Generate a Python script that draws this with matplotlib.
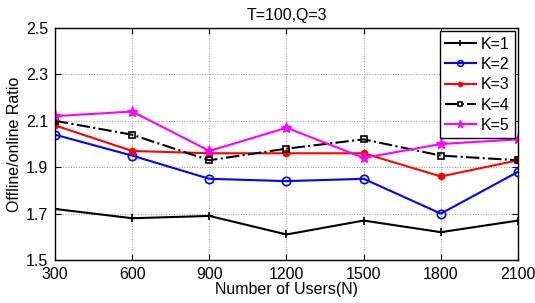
import matplotlib
matplotlib.use('Agg')
import matplotlib.pyplot as plt

plt.rcParams['font.family'] = ['Liberation Sans', 'DejaVu Sans']

# ── Data ─────────────────────────────────────────────────────────────────────
users = [300, 600, 900, 1200, 1500, 1800, 2100]
k1 = [1.72, 1.68, 1.69, 1.61, 1.67, 1.62, 1.67]
k2 = [2.04, 1.95, 1.85, 1.84, 1.85, 1.70, 1.88]
k3 = [2.08, 1.97, 1.96, 1.96, 1.96, 1.86, 1.93]
k4 = [2.10, 2.04, 1.93, 1.98, 2.02, 1.95, 1.93]
k5 = [2.12, 2.14, 1.97, 2.07, 1.94, 2.00, 2.02]
y_ticks = [1.5, 1.7, 1.9, 2.1, 2.3, 2.5]

fig = plt.figure(figsize=(5.35, 3.03), dpi=100)
ax = fig.add_axes([0.1028, 0.1419, 0.8654, 0.7657])

ax.plot(users, k1, color='black', marker='+', ms=6, lw=1.5, mew=1.2, label='K=1')
ax.plot(users, k2, color='blue', marker='o', ms=6, lw=1.5, mfc='none', mew=1.2, label='K=2')
ax.plot(users, k3, color='red', marker='.', ms=9, lw=1.5, label='K=3')
ax.plot(users, k4, color='black', marker='s', ms=5, lw=1.5, ls='-.', mfc='none', mew=1.2, label='K=4')
ax.plot(users, k5, color='magenta', marker='*', ms=8, lw=1.5, label='K=5')

ax.set_xlim(300, 2100)
ax.set_ylim(1.5, 2.5)
ax.set_xticks(users)
ax.set_yticks(y_ticks)
ax.tick_params(direction='in', top=True, right=True, labelsize=11.5, length=4, pad=5)
ax.grid(True, ls=':', color='#999999', lw=0.7)
for s in ax.spines.values():
    s.set_linewidth(1.0)

ax.set_title('T=100,Q=3', fontsize=11.5, pad=6)
ax.set_xlabel('Number of Users(N)', fontsize=11.5, labelpad=0)
ax.set_ylabel('Offline/online Ratio', fontsize=11.5, labelpad=3)

leg = ax.legend(loc='upper right', fontsize=11.5, fancybox=False, framealpha=1,
                edgecolor='black', handlelength=1.9, borderpad=0.35,
                labelspacing=0.33, handletextpad=0.3, borderaxespad=0.2,
                markerscale=0.7)
leg.get_frame().set_linewidth(1.0)

fig.savefig('out.png', dpi=100)
